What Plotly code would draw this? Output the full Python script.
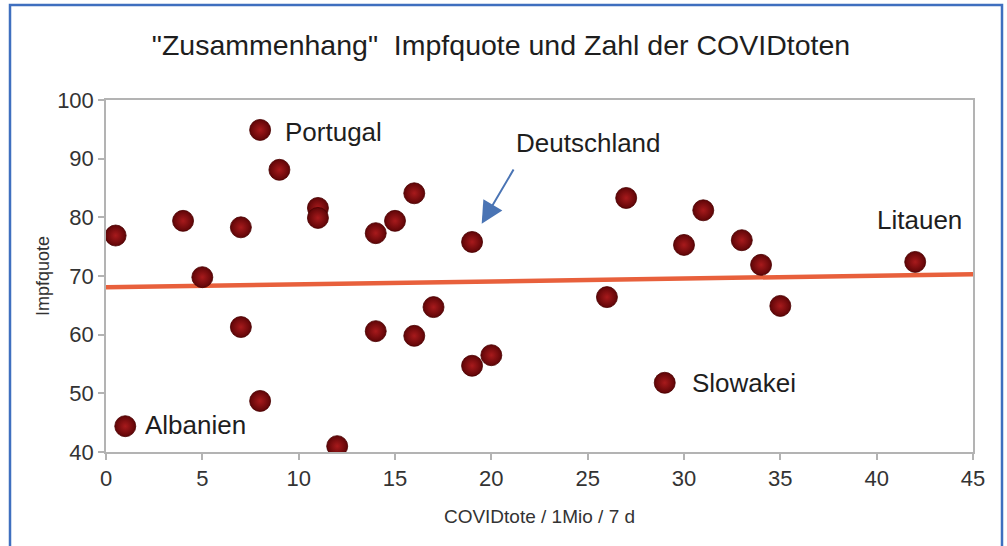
import plotly.graph_objects as go

# data
covid_deaths = [0.5, 1, 4, 5, 7, 7, 8, 8, 9, 11, 11, 12, 14, 14, 15, 16, 16, 17,
                19, 19, 20, 26, 27, 29, 30, 31, 33, 34, 35, 42]
vacc_rate = [76.9, 44.4, 79.4, 69.8, 78.3, 61.3, 94.9, 48.7, 88.1, 81.6, 79.9, 41.0,
             77.3, 60.6, 79.4, 84.1, 59.8, 64.7, 75.8, 54.7, 56.5, 66.4, 83.3, 51.8,
             75.3, 81.2, 76.1, 71.9, 64.9, 72.4]

trend_x = [0, 45]
trend_y = [68.1, 70.3]

label_text = ["Portugal", "Albanien", "Slowakei", "Litauen"]
label_x = [9.2, 1.9, 30.3, 39.9]
label_y = [94.5, 44.6, 51.8, 79.6]

arrow_label = "Deutschland"
arrow_text_x, arrow_text_y = 21.2, 92.6
arrow_tail_x, arrow_tail_y = 21.2, 88.4
arrow_tip_x, arrow_tip_y = 19.5, 78.9

x_ticks = [0, 5, 10, 15, 20, 25, 30, 35, 40, 45]
y_ticks = [40, 50, 60, 70, 80, 90, 100]

FONT = "Liberation Sans, Arial, sans-serif"
AXIS_GREY = "#b3b3b3"

fig = go.Figure()

fig.add_trace(go.Scatter(
    x=trend_x, y=trend_y, mode="lines",
    line=dict(color="#e8603c", width=4.5),
    hoverinfo="skip", showlegend=False,
))

fig.add_trace(go.Scatter(
    x=covid_deaths, y=vacc_rate, mode="markers",
    marker=dict(size=21, color="#5e0507",
                gradient=dict(type="radial", color="#a81a1c"),
                line=dict(width=0.8, color="#4a0000")),
    showlegend=False,
))

annotations = []
for t, xx, yy in zip(label_text, label_x, label_y):
    annotations.append(dict(
        x=xx, y=yy, xref="x", yref="y", text=t, showarrow=False,
        xanchor="left", yanchor="middle",
        font=dict(family=FONT, size=26, color="#1e1e1e"),
    ))

annotations.append(dict(
    x=arrow_text_x, y=arrow_text_y, xref="x", yref="y", text=arrow_label,
    showarrow=False, xanchor="left", yanchor="middle",
    font=dict(family=FONT, size=26, color="#1e1e1e"),
))
annotations.append(dict(
    x=arrow_tip_x, y=arrow_tip_y, xref="x", yref="y",
    ax=arrow_tail_x, ay=arrow_tail_y, axref="x", ayref="y",
    text="", showarrow=True, arrowhead=2, arrowsize=2.2, arrowwidth=2,
    arrowcolor="#4a74b4",
))

fig.update_layout(
    width=1007, height=546,
    margin=dict(l=106, r=34, t=100, b=94),
    paper_bgcolor="white", plot_bgcolor="white",
    font=dict(family=FONT, color="#333333"),
    title=dict(
        text='"Zusammenhang"\u00a0 Impfquote und Zahl der COVIDtoten',
        x=0.4975, xref="container", xanchor="center",
        y=1 - 45 / 546, yref="container", yanchor="middle",
        font=dict(family=FONT, size=28.5, color="#1e1e1e"),
    ),
    xaxis=dict(
        range=[0, 45], tickmode="array", tickvals=x_ticks,
        showgrid=False, zeroline=False,
        showline=True, linecolor=AXIS_GREY, linewidth=1.5, mirror=True,
        ticks="outside", ticklen=6, tickcolor=AXIS_GREY, tickwidth=1.5,
        tickfont=dict(family=FONT, size=22, color="#333333"),
        title=dict(text="COVIDtote / 1Mio / 7 d", standoff=20,
                   font=dict(family=FONT, size=19, color="#333333")),
    ),
    yaxis=dict(
        range=[40, 100], tickmode="array", tickvals=y_ticks,
        showgrid=False, zeroline=False,
        showline=True, linecolor=AXIS_GREY, linewidth=1.5, mirror=True,
        ticks="outside", ticklen=6, tickcolor=AXIS_GREY, tickwidth=1.5,
        tickfont=dict(family=FONT, size=22, color="#333333"),
        title=dict(text="Impfquote", standoff=3,
                   font=dict(family=FONT, size=18, color="#333333")),
    ),
    annotations=annotations,
    shapes=[dict(
        type="rect", xref="paper", yref="paper",
        x0=(10 - 106) / 867, x1=(1002 - 106) / 867,
        y0=(452 - 560) / 352, y1=(452 - 5) / 352,
        line=dict(color="#3f6fbf", width=2.5), fillcolor="rgba(0,0,0,0)",
        layer="below",
    )],
)

fig.write_html(
    "out.html",
    config={"displayModeBar": False},
    post_script="document.body.style.margin='0';document.body.style.overflow='hidden';",
)
